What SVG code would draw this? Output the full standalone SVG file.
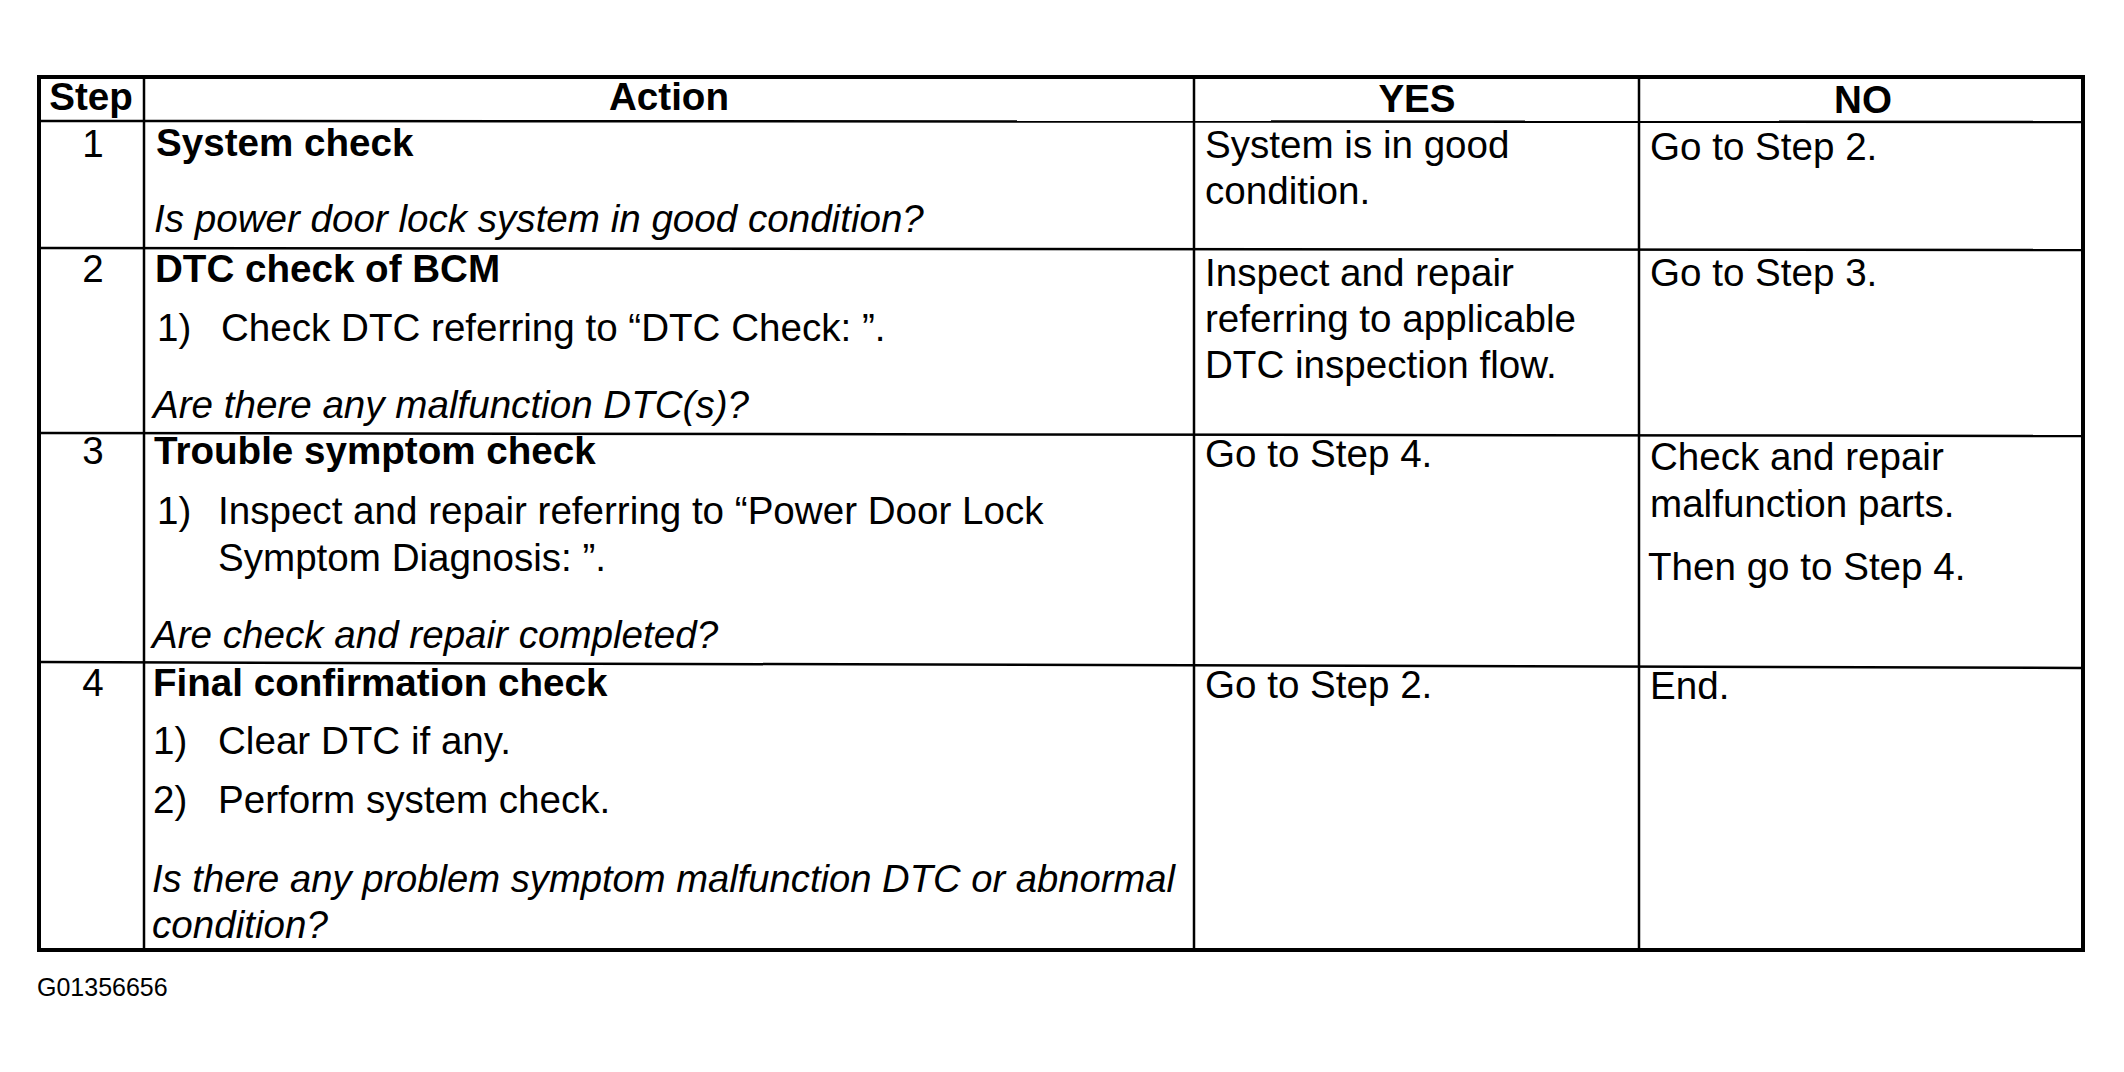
<svg xmlns="http://www.w3.org/2000/svg" width="2124" height="1072" viewBox="0 0 2124 1072">
<style>
text{font-family:"Liberation Sans",Arial,sans-serif;font-size:38.6px;fill:#000}
.b{font-weight:bold}
.i{font-style:italic}
.c{text-anchor:middle}
.ln{stroke:#000;stroke-width:2.5;fill:none}
.ob{stroke:#000;stroke-width:4;fill:none}
.ft{font-size:25px}
</style>
<rect width="2124" height="1072" fill="#fff"/>
<g id="grid">
<rect class="ob" x="39" y="77" width="2044" height="873"/>
<line class="ln" x1="144" y1="77" x2="144" y2="950"/>
<line class="ln" x1="1194" y1="77" x2="1194" y2="950"/>
<line class="ln" x1="1639" y1="77" x2="1639" y2="950"/>
<line class="ln" x1="39" y1="121" x2="2083" y2="122"/>
<line class="ln" x1="39" y1="248" x2="2083" y2="250"/>
<line class="ln" x1="39" y1="433" x2="2083" y2="436"/>
<line class="ln" x1="39" y1="662" x2="2083" y2="668"/>
</g>
<g id="header">
<text class="b c" x="91" y="110">Step</text>
<text class="b c" x="669" y="110">Action</text>
<text class="b c" x="1417" y="112">YES</text>
<text class="b c" x="1863" y="113">NO</text>
</g>
<g id="row1">
<text class="c" x="93" y="157">1</text>
<text class="b" x="156" y="156">System check</text>
<text class="i" x="154" y="232">Is power door lock system in good condition?</text>
<text x="1205" y="158">System is in good</text>
<text x="1205" y="204">condition.</text>
<text x="1650" y="160">Go to Step 2.</text>
</g>
<g id="row2">
<text class="c" x="93" y="282">2</text>
<text class="b" x="155" y="282">DTC check of BCM</text>
<text x="157" y="341">1)</text>
<text x="221" y="341">Check DTC referring to “DTC Check: ”.</text>
<text class="i" x="153" y="418">Are there any malfunction DTC(s)?</text>
<text x="1205" y="286">Inspect and repair</text>
<text x="1205" y="332">referring to applicable</text>
<text x="1205" y="378">DTC inspection flow.</text>
<text x="1650" y="286">Go to Step 3.</text>
</g>
<g id="row3">
<text class="c" x="93" y="464">3</text>
<text class="b" x="154" y="464">Trouble symptom check</text>
<text x="157" y="524">1)</text>
<text x="218" y="524">Inspect and repair referring to “Power Door Lock</text>
<text x="218" y="571">Symptom Diagnosis: ”.</text>
<text class="i" x="152" y="648">Are check and repair completed?</text>
<text x="1205" y="467">Go to Step 4.</text>
<text x="1650" y="470">Check and repair</text>
<text x="1650" y="517">malfunction parts.</text>
<text x="1648" y="580">Then go to Step 4.</text>
</g>
<g id="row4">
<text class="c" x="93" y="696">4</text>
<text class="b" x="153" y="696">Final confirmation check</text>
<text x="153" y="754">1)</text>
<text x="218" y="754">Clear DTC if any.</text>
<text x="153" y="813">2)</text>
<text x="218" y="813">Perform system check.</text>
<text class="i" x="152" y="892" style="font-size:38.2px">Is there any problem symptom malfunction DTC or abnormal</text>
<text class="i" x="152" y="938">condition?</text>
<text x="1205" y="698">Go to Step 2.</text>
<text x="1650" y="699">End.</text>
</g>
<g id="footer">
<text class="ft" x="37" y="996">G01356656</text>
</g>
</svg>
